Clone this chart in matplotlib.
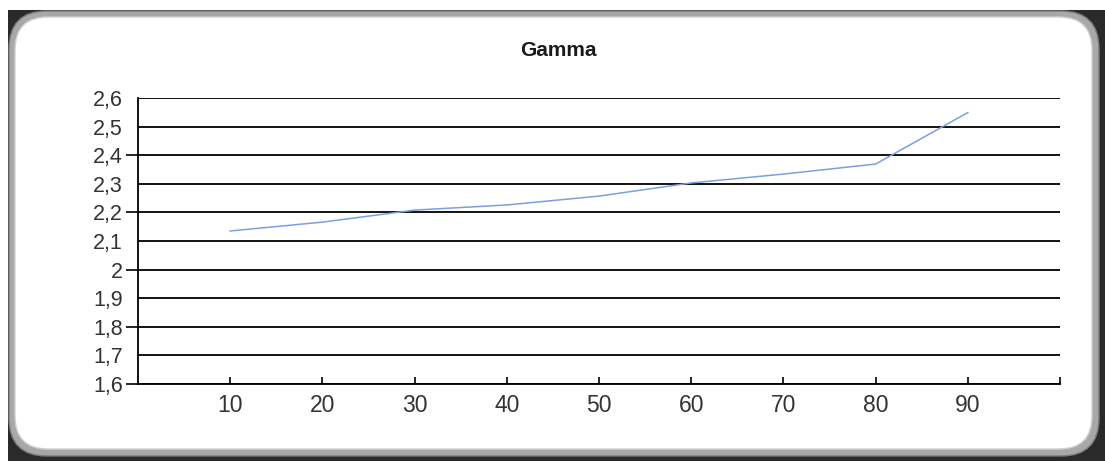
import numpy as np
import matplotlib
matplotlib.use("Agg")
import matplotlib.pyplot as plt
from matplotlib.patches import FancyBboxPatch, Rectangle
from matplotlib.ticker import FixedLocator, FuncFormatter

plt.rcParams['font.family'] = ['Liberation Sans', 'DejaVu Sans']

# data
x_vals = [10, 20, 30, 40, 50, 60, 70, 80, 90]
gamma = [2.135, 2.166, 2.208, 2.226, 2.257, 2.303, 2.334, 2.369, 2.549]
x_ticks = [10, 20, 30, 40, 50, 60, 70, 80, 90]
title = "Gamma"

W, H = 1105, 461
fig = plt.figure(figsize=(W / 100, H / 100), dpi=100, facecolor='white')

# rounded window frame
bg = fig.add_axes([0, 0, 1, 1])
bg.set_xlim(0, W)
bg.set_ylim(H, 0)
bg.axis('off')
bg.add_patch(Rectangle((8, 10), W - 8, H - 10, facecolor='#2a2a2a', edgecolor='none'))
bg.add_patch(FancyBboxPatch((9, 11), 1090, 445, boxstyle="round,pad=0,rounding_size=38",
                            facecolor='#a8a8a8', edgecolor='#7a7a7a', lw=1))
bg.add_patch(FancyBboxPatch((15, 17), 1077, 432, boxstyle="round,pad=0,rounding_size=33",
                            facecolor='white', edgecolor='#d0d0d0', lw=1))

ax = fig.add_axes([138 / W, 1 - 384 / H, (1060 - 138) / W, (384 - 98) / H])
ax.set_facecolor('none')
ax.plot(x_vals, gamma, color='#7b9fe3', lw=1.1, zorder=3)

ax.set_xlim(0, 100)
ax.set_ylim(1.6, 2.6)

# horizontal grid
for v in np.arange(1.6, 2.61, 0.1):
    ax.axhline(v, color='black', lw=1.3, zorder=1)

for s in ['top', 'right']:
    ax.spines[s].set_visible(False)
for s in ['left', 'bottom']:
    ax.spines[s].set_color('black')
    ax.spines[s].set_linewidth(1.3)

fmt = FuncFormatter(lambda v, p: ('%g' % round(v, 1)).replace('.', ','))
ax.yaxis.set_major_locator(FixedLocator([1.6, 1.8, 2.0, 2.2, 2.4]))
ax.yaxis.set_minor_locator(FixedLocator([1.7, 1.9, 2.1, 2.3, 2.5, 2.6]))
ax.yaxis.set_major_formatter(fmt)
ax.yaxis.set_minor_formatter(fmt)
ax.tick_params(axis='y', which='major', length=9, width=1.2, color='black', pad=2,
               labelsize=15.5, labelcolor='#333333')
ax.tick_params(axis='y', which='minor', length=0, pad=11, labelsize=15.5, labelcolor='#333333')

ax.xaxis.set_major_locator(FixedLocator(x_ticks + [100]))
ax.set_xticklabels([str(t) for t in x_ticks] + [''])
ax.tick_params(axis='x', which='major', direction='in', length=5, width=1.2, color='black',
               pad=7, labelsize=16.5, labelcolor='#333333')

fig.text(558 / W, 1 - 50 / H, title, ha='center', va='center', fontsize=15,
         fontweight='bold', color='#1a1a1a')

fig.savefig('out.png', dpi=100, facecolor='white')
